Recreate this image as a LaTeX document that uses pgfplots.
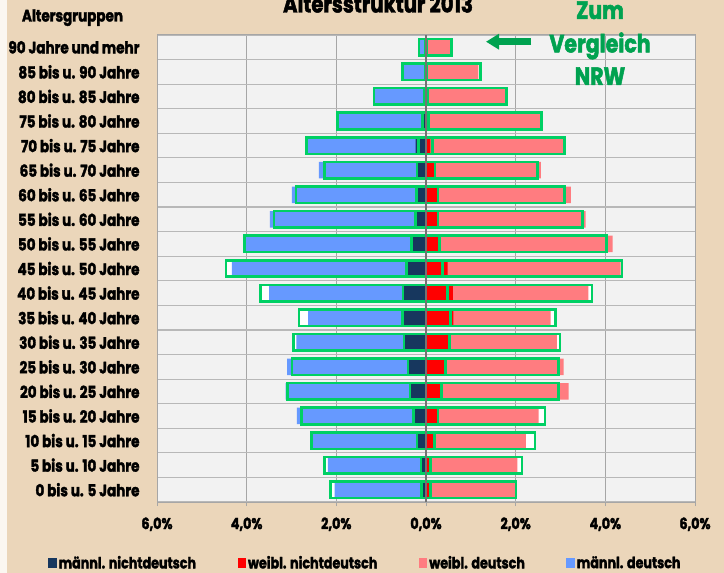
\documentclass[border=0pt]{standalone}
\usepackage{pgfplots}
\pgfplotsset{compat=1.18}
\usepackage{pgfplotstable}
\usepackage{fontspec}
\setmainfont{Poppins}[FakeStretch=0.82, BoldFeatures={FakeBold=2}]
\usetikzlibrary{arrows.meta}

\definecolor{bgtan}{RGB}{235,214,186}
\definecolor{plotbg}{RGB}{242,242,242}
\definecolor{mnd}{RGB}{23,55,94}
\definecolor{md}{RGB}{102,153,255}
\definecolor{fnd}{RGB}{255,0,0}
\definecolor{fd}{RGB}{255,124,128}
\definecolor{nrw}{RGB}{0,208,100}
\definecolor{nrwtext}{RGB}{0,162,80}
\definecolor{gridc}{RGB}{166,166,166}

% Anteile in % : Stadt (c) und NRW (n), m = maennl., f = weibl., nd = nichtdeutsch, t = gesamt
\pgfplotstableread{
y  cmnd cmt  nmnd nmt  cfnd cft  nfnd nft
0  0.10 2.04 0.10 2.13 0.09 1.98 0.10 2.01
1  0.10 2.19 0.11 2.26 0.09 2.04 0.10 2.14
2  0.19 2.56 0.20 2.56 0.18 2.23 0.19 2.43
3  0.27 2.88 0.28 2.78 0.26 2.51 0.27 2.65
4  0.35 3.13 0.36 3.09 0.34 3.18 0.35 2.96
5  0.39 3.10 0.40 2.99 0.42 3.07 0.43 2.96
6  0.48 2.89 0.49 2.96 0.51 2.92 0.52 2.99
7  0.52 2.63 0.53 2.83 0.61 2.78 0.54 2.89
8  0.50 3.50 0.51 3.69 0.60 3.62 0.48 3.70
9  0.43 4.33 0.44 4.46 0.48 4.34 0.37 4.37
10 0.30 4.05 0.32 4.05 0.30 4.16 0.30 4.03
11 0.23 3.48 0.24 3.39 0.27 3.56 0.27 3.49
12 0.20 2.99 0.21 2.90 0.27 3.23 0.27 3.09
13 0.20 2.39 0.20 2.26 0.18 2.56 0.20 2.49
14 0.23 2.66 0.17 2.66 0.10 3.08 0.14 3.09
15 0.05 1.97 0.08 1.97 0.04 2.55 0.06 2.58
16 0.03 1.16 0.04 1.16 0.02 1.80 0.03 1.80
17 0.02 0.52 0.02 0.52 0.01 1.17 0.02 1.21
18 0.01 0.13 0.01 0.16 0.01 0.56 0.01 0.57
}\data

\begin{document}
\begin{tikzpicture}
\useasboundingbox (0,0) rectangle (724bp,573bp);
\fill[bgtan] (0,0) rectangle (724bp,573bp);
\fill[white!80!bgtan] (0,0) rectangle (7bp,573bp);

\node[font=\bfseries\fontsize{24bp}{26bp}\selectfont, anchor=base, inner sep=0pt] at (378bp,560.5bp) {Altersstruktur 2013};
\node[font=\bfseries\fontsize{16.5bp}{18bp}\selectfont, anchor=base, inner sep=0pt] at (72.5bp,551.5bp) {Altersgruppen};

\begin{axis}[
  at={(157bp,71bp)}, anchor=south west,
  scale only axis, width=538bp, height=467bp,
  xmin=-6, xmax=6, ymin=-0.5, ymax=18.5,
  axis background/.style={fill=plotbg},
  axis line style={gridc, line width=1bp},
  xbar, bar width=16.5bp, bar shift=0pt,
  xtick={-6,-4,...,6},
  xticklabels={{6,0\%},{4,0\%},{2,0\%},{0,0\%},{2,0\%},{4,0\%},{6,0\%}},
  xtick pos=bottom, xtick align=outside,
  major tick length=4bp,
  xtick style={gridc, line width=1bp},
  xmajorgrids, major grid style={gridc, line width=1bp},
  ytick={0,...,18},
  yticklabels={0 bis u. 5 Jahre,5 bis u. 10 Jahre,10 bis u. 15 Jahre,15 bis u. 20 Jahre,20 bis u. 25 Jahre,25 bis u. 30 Jahre,30 bis u. 35 Jahre,35 bis u. 40 Jahre,40 bis u. 45 Jahre,45 bis u. 50 Jahre,50 bis u. 55 Jahre,55 bis u. 60 Jahre,60 bis u. 65 Jahre,65 bis u. 70 Jahre,70 bis u. 75 Jahre,75 bis u. 80 Jahre,80 bis u. 85 Jahre,85 bis u. 90 Jahre,90 Jahre und mehr},
  ytick style={draw=none},
  minor ytick={-0.5,0.5,...,18.5},
  minor tick style={draw=none},
  yminorgrids, minor grid style={gridc!80!white, line width=1.2bp},
  xticklabel style={font=\bfseries\fontsize{15.5bp}{18bp}\selectfont, yshift=-8bp},
  yticklabel style={font=\bfseries\fontsize{16.5bp}{18bp}\selectfont, anchor=east, xshift=-10bp},
  legend columns=4,
  legend style={at={(-0.2025,-0.1305)}, anchor=west, draw=none, fill=none, inner sep=0pt,
    font=\bfseries\fontsize{15.5bp}{17bp}\selectfont,
    nodes={inner sep=2.5bp},
    /tikz/every even column/.append style={column sep=39bp}},
  legend image code/.code={\fill[#1] (0bp,-4.5bp) rectangle (7.5bp,4.5bp);},
]
% NRW-Flaechen (weiss) hinter den Balken
\addplot[fill=white, draw=none, forget plot] table[x expr=-\thisrow{nmt}, y=y] {\data};
\addplot[fill=white, draw=none, forget plot] table[x=nft, y=y] {\data};
% Stadt
\addplot[fill=md, draw=none, forget plot] table[x expr=-\thisrow{cmt}, y=y] {\data};
\addplot[fill=mnd, draw=none, forget plot] table[x expr=-\thisrow{cmnd}, y=y] {\data};
\addplot[fill=fd, draw=none, forget plot] table[x=cft, y=y] {\data};
\addplot[fill=fnd, draw=none, forget plot] table[x=cfnd, y=y] {\data};
% NRW-Rahmen
\addplot[fill=none, draw=nrw, line width=2.6bp, forget plot] table[x expr=-\thisrow{nmt}, y=y] {\data};
\addplot[fill=none, draw=nrw, line width=2.6bp, forget plot] table[x expr=-\thisrow{nmnd}, y=y] {\data};
\addplot[fill=none, draw=nrw, line width=2.6bp, forget plot] table[x=nft, y=y] {\data};
\addplot[fill=none, draw=nrw, line width=2.6bp, forget plot] table[x=nfnd, y=y] {\data};
% Nulllinie
\addplot[sharp plot, draw=gray!90!black, line width=1.3bp, forget plot] coordinates {(0,-0.5) (0,18.5)};

\addlegendimage{mnd}
\addlegendentry{männl. nichtdeutsch}
\addlegendimage{fnd}
\addlegendentry{weibl. nichtdeutsch}
\addlegendimage{fd}
\addlegendentry{weibl. deutsch}
\addlegendimage{md}
\addlegendentry{männl. deutsch}
\end{axis}

\node[font=\bfseries\fontsize{25bp}{27bp}\selectfont, text=nrwtext, anchor=base, inner sep=0pt] at (600bp,554bp) {Zum};
\node[font=\bfseries\fontsize{25bp}{27bp}\selectfont, text=nrwtext, anchor=base, inner sep=0pt] at (600bp,520.5bp) {Vergleich};
\node[font=\bfseries\fontsize{25bp}{27bp}\selectfont, text=nrwtext, anchor=base, inner sep=0pt] at (600bp,488bp) {NRW};
\draw[nrwtext, line width=7bp, -{Triangle[length=13bp,width=15bp]}] (531bp,531.3bp) -- (486bp,531.3bp);
\end{tikzpicture}
\end{document}
